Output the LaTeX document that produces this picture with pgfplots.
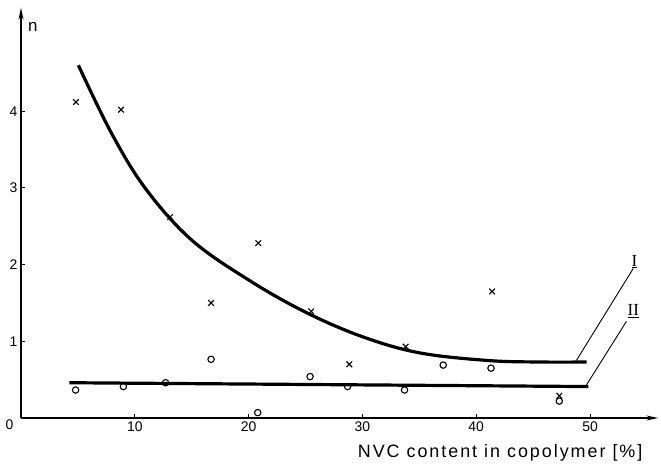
\documentclass[border=0pt]{standalone}
\usepackage{pgfplots}
\pgfplotsset{compat=1.18}
\usetikzlibrary{arrows.meta}
\usepackage{fontspec}
\setmainfont{Liberation Sans}
\newfontfamily\romanfont{Liberation Serif}
\newfontfamily\spacedfont[LetterSpace=11]{Liberation Sans}
\begin{document}
\begin{tikzpicture}
\begin{axis}[
  scale only axis, width=637.3bp, height=410.3bp,
  xmin=0, xmax=56, ymin=0, ymax=5.35,
  axis x line=bottom, axis y line=left,
  axis line style={line width=1.3bp, -{Stealth[length=12bp,width=5bp]}},
  xtick={10,20,30,40,50}, ytick={1,2,3,4},
  tick align=inside, major tick length=4bp,
  tick style={line width=1bp, black},
  ticklabel style={font=\fontsize{14}{16}\selectfont},
  /pgf/number format/assume math mode=true,
  clip=false,
]
% series I (crosses)
\addplot[only marks, mark=x, mark size=4bp, line width=1.1bp] coordinates {
 (4.83,4.12) (8.79,4.02) (13.1,2.62) (16.7,1.50) (20.85,2.28) (25.5,1.39)
 (28.85,0.70) (33.8,0.93) (41.4,1.65) (47.3,0.29)
};
% series II (circles)
\addplot[only marks, mark=o, mark size=3.2bp, line width=1.1bp] coordinates {
 (4.8,0.365) (9.0,0.41) (12.7,0.46) (16.7,0.765) (20.8,0.07) (25.4,0.54)
 (28.7,0.41) (33.7,0.365) (37.1,0.69) (41.3,0.65) (47.3,0.22)
};
% curve I
\addplot[smooth, tension=0.6, line width=3.2bp] coordinates {
 (5.04,4.60) (8,3.70) (11,2.98) (15,2.32) (20,1.80) (25,1.38) (30,1.06)
 (35,0.85) (41,0.75) (45.6,0.73) (49.7,0.73)
};
% curve II
\addplot[line width=3.2bp] coordinates {(4.25,0.46) (49.85,0.41)};
% leader lines
\addplot[line width=0.9bp] coordinates {(53.8,1.95) (48.8,0.75)};
\addplot[line width=0.9bp] coordinates {(53.2,1.26) (49.6,0.41)};
\node[font=\romanfont\fontsize{17}{17}\selectfont] at (axis cs:53.9,2.04) {\underline{I}};
\node[font=\romanfont\fontsize{17}{17}\selectfont] at (axis cs:53.8,1.39) {\underline{II}};
\node[font=\fontsize{17}{18}\selectfont] at (axis cs:1.05,5.1) {n};
\node[font=\fontsize{14}{16}\selectfont] at (axis cs:-1.0,-0.09) {0};
\node[font=\spacedfont\fontsize{18}{20}\selectfont] at (axis cs:42.1,-0.46) {NVC content in copolymer [\%]};
\end{axis}
\pgfresetboundingbox
\path[use as bounding box] (-21bp,-50bp) rectangle (640bp,418bp);
\end{tikzpicture}
\end{document}
